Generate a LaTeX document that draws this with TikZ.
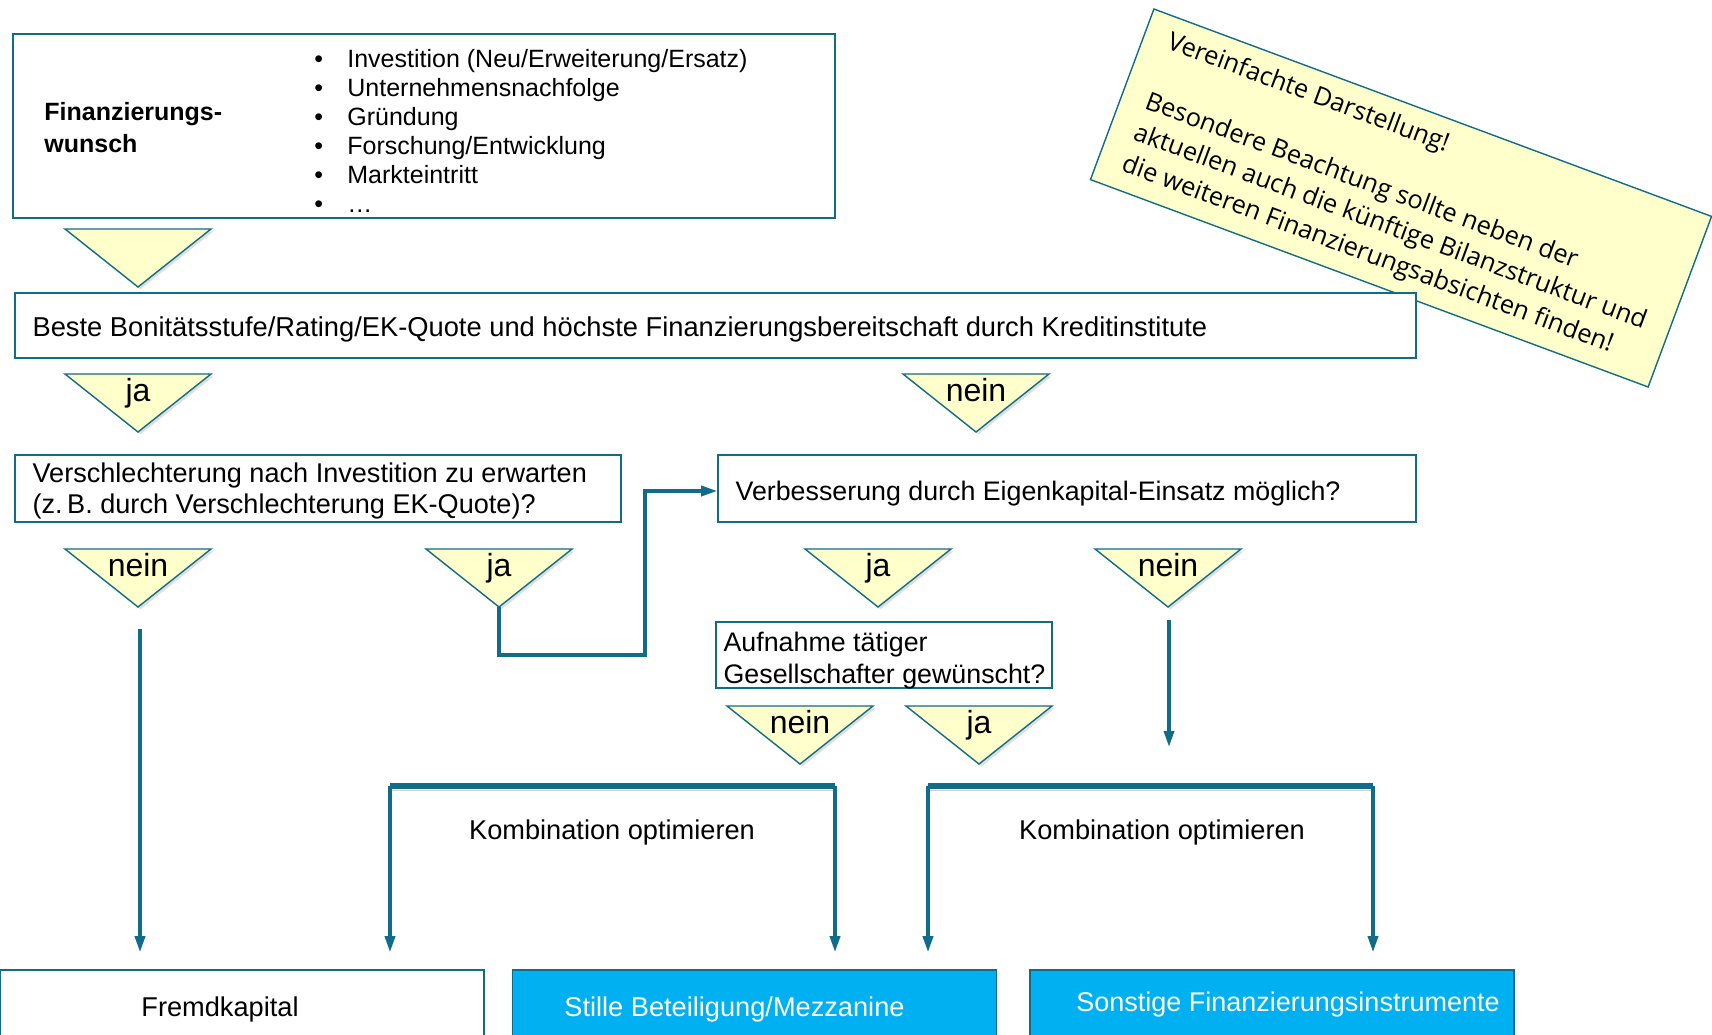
\documentclass[tikz,border=0pt]{standalone}
\usepackage{fontspec}
\setmainfont{Liberation Sans}
\newfontfamily\hinweisfont{Open Sans}
\usetikzlibrary{arrows.meta,calc,positioning,shadows}
\definecolor{petrol}{RGB}{16,108,136}
\definecolor{hellgelb}{RGB}{255,255,204}
\definecolor{cyanblau}{RGB}{0,176,240}
\tikzset{
    >={Triangle[width=5pt,length=8pt]},
    kasten/.style={
           rectangle,
           draw=petrol, line width=0.8pt,
           fill=white,
           inner sep=0pt},
    kastentext/.style={
           anchor=west,
           align=left,
           inner sep=0pt,
           font=\fontsize{13.4}{15.5}\selectfont},
    ziel/.style={
           rectangle,
           draw=petrol, line width=0.8pt,
           minimum width=242pt, minimum height=37pt},
    zieltext/.style={
           inner sep=0pt,
           font=\fontsize{13.6}{16}\selectfont},
    weiche/.style={
           draw=petrol, line width=0.7pt,
           fill=hellgelb,
           line join=miter,
           drop shadow={shadow xshift=1.2pt, shadow yshift=-1.2pt, opacity=0.25}},
    antwort/.style={
           anchor=base,
           inner sep=0pt,
           font=\fontsize{16}{18}\selectfont},
    pfeil/.style={
           ->,
           draw=petrol, line width=1.65pt},
    klammer/.style={
           draw=petrol, line width=2.75pt,
           preaction={draw=black!40, opacity=0.45, transform canvas={yshift=-2pt}}}
}
% Entscheidungsdreieck: Name, x, y oben, Beschriftung
\newcommand{\dreieck}[4]{%
    \draw[weiche] (#2-73,#3) -- (#2+73,#3) -- (#2,#3+58) -- cycle;
    \node[antwort] (#1) at (#2,#3+27) {#4};
    \coordinate (#1s) at (#2,#3+58);
}
\begin{document}
\begin{tikzpicture}[x=0.5pt, y=-0.5pt]
    \useasboundingbox (0,0) rectangle (1712,1034);

    % Finanzierungswunsch
    \node[kasten, minimum width=411pt, minimum height=92pt] (wunsch) at (424,126) {};
    \node[anchor=west, align=left, inner sep=0pt,
          font=\bfseries\fontsize{12.5}{16}\selectfont] (wtitel) at (44,128) {Finanzierungs-\\wunsch};
    \node[anchor=west, align=left, inner sep=0pt,
          font=\fontsize{12.5}{14.5}\selectfont] (wliste) at (314,131) {%
        \makebox[16.5pt][l]{\textbullet}Investition (Neu/Erweiterung/Ersatz)\\
        \makebox[16.5pt][l]{\textbullet}Unternehmensnachfolge\\
        \makebox[16.5pt][l]{\textbullet}Gründung\\
        \makebox[16.5pt][l]{\textbullet}Forschung/Entwicklung\\
        \makebox[16.5pt][l]{\textbullet}Markteintritt\\
        \makebox[16.5pt][l]{\textbullet}…};

    % Hinweis
    \node[rectangle, draw=petrol, line width=0.7pt, fill=hellgelb,
          minimum width=297.5pt, minimum height=91pt, align=left,
          rotate=-20.4, font=\hinweisfont\fontsize{12.7}{16.6}\selectfont] (hinweis) at (1401,198) {%
        Vereinfachte Darstellung!\\[15.4pt]
        Besondere Beachtung sollte neben der\\
        aktuellen auch die künftige Bilanzstruktur und\\
        die weiteren Finanzierungsabsichten finden!};

    % Fragen
    \node[kasten, minimum width=700.5pt, minimum height=32.5pt] (bonitaet) at (715.5,325.5) {};
    \node[kastentext, shift={(9pt,-2.2pt)}, font=\fontsize{13.65}{15.5}\selectfont] (bonitaet-t) at (bonitaet.west)
        {Beste Bonitätsstufe/Rating/EK-Quote und höchste Finanzierungsbereitschaft durch Kreditinstitute};
    \node[kasten, minimum width=303pt, minimum height=33.5pt] (verschl) at (318,488.5) {};
    \node[kastentext, shift={(9pt,-1.1pt)}, font=\fontsize{13.55}{15.5}\selectfont] (verschl-t) at (verschl.west)
        {Verschlechterung nach Investition zu erwarten\\(z.\,B. durch Verschlechterung EK-Quote)?};
    \node[kasten, minimum width=349pt, minimum height=33.5pt] (verbess) at (1067,488.5) {};
    \node[kastentext, shift={(9pt,-2.7pt)}] (verbess-t) at (verbess.west)
        {Verbesserung durch Eigenkapital-Einsatz möglich?};
    \node[kasten, minimum width=168pt, minimum height=33pt] (aufnahme) at (884,655) {};
    \node[kastentext, shift={(4pt,-2.7pt)}, font=\fontsize{13.4}{16}\selectfont] (aufnahme-t) at (aufnahme.west)
        {Aufnahme tätiger\\Gesellschafter gewünscht?};

    % Ziele
    \node[ziel, fill=white] (fremd) at (242,1007) {};
    \node[zieltext, shift={(-11pt,-1.1pt)}] (fremd-t) at (fremd.center) {Fremdkapital};
    \node[ziel, fill=cyanblau] (stille) at (754.5,1007) {};
    \node[zieltext, text=white, shift={(-10pt,-1.1pt)}] (stille-t) at (stille.center) {Stille Beteiligung/Mezzanine};
    \node[ziel, fill=cyanblau] (sonstige) at (1272,1007) {};
    \node[zieltext, text=white, shift={(8pt,1.4pt)}, font=\fontsize{13.5}{16}\selectfont] (sonstige-t) at (sonstige.center) {Sonstige Finanzierungsinstrumente};

    % Entscheidungen
    \dreieck{d1}{138}{229}{}
    \dreieck{d2}{138}{374}{ja}
    \dreieck{d3}{976}{374}{nein}
    \dreieck{d4}{138}{549}{nein}
    \dreieck{d5}{499}{549}{ja}
    \dreieck{d6}{878}{549}{ja}
    \dreieck{d7}{1168}{549}{nein}
    \dreieck{d8}{800}{706}{nein}
    \dreieck{d9}{979}{706}{ja}

    % Verbindungen
    \coordinate (knick) at (645,655);
    \coordinate (offen) at (1169,747);
    \coordinate (kl1) at (390,786);
    \coordinate (kr1) at (835,786);
    \coordinate (kl2) at (928,786);
    \coordinate (kr2) at (1373,786);

    \draw[pfeil, shorten <=11pt, shorten >=8.5pt] ([xshift=1pt]d4s) -- ([xshift=1pt]d4s |- fremd.north);
    \draw[pfeil] (d5s) |- (knick) |- ([yshift=-1.25pt]verbess.west);
    \draw[pfeil, shorten <=6.5pt] ([xshift=0.5pt]d7s) -- (offen);

    \draw[klammer] (kl1) -- (kr1);
    \draw[pfeil, shorten >=8.5pt] (kl1) -- (kl1 |- fremd.north);
    \draw[pfeil, shorten >=8.5pt] (kr1) -- (kr1 |- stille.north);
    \draw[klammer] (kl2) -- (kr2);
    \draw[pfeil, shorten >=8.5pt] (kl2) -- (kl2 |- stille.north);
    \draw[pfeil, shorten >=8.5pt] (kr2) -- (kr2 |- sonstige.north);

    \node[zieltext] (komb1) at (612,832) {Kombination optimieren};
    \node[zieltext] (komb2) at (1162,832) {Kombination optimieren};
\end{tikzpicture}
\end{document}
